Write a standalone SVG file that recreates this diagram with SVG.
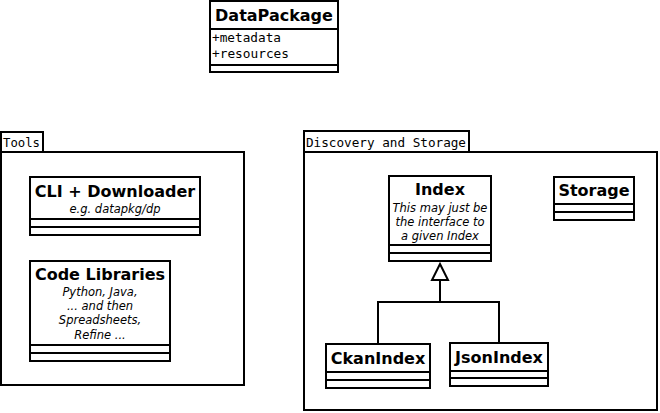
<svg xmlns="http://www.w3.org/2000/svg" width="660" height="413" viewBox="0 0 660 413">
<style>
rect, line, path, polyline { fill: #fff; stroke: #000; stroke-width: 2; }
polyline.c { fill: none; }
.t { font-family: "DejaVu Sans", sans-serif; font-weight: bold; font-size: 16px; text-anchor: middle; }
.i { font-family: "DejaVu Sans", sans-serif; font-style: italic; font-size: 11.5px; text-anchor: middle; }
.m { font-family: "DejaVu Sans Mono", monospace; font-size: 12.5px; }
</style>
<rect x="0" y="0" width="660" height="413" style="stroke:none"/>
<g id="pkg-tools">
<rect x="1" y="152" width="243" height="233"/>
<rect x="1" y="132" width="42" height="20"/>
<text class="m" x="3" y="147" textLength="37" lengthAdjust="spacingAndGlyphs">Tools</text>
</g>
<g id="pkg-discovery">
<rect x="304" y="152" width="353" height="258"/>
<rect x="304" y="131" width="165" height="21"/>
<text class="m" x="306" y="147" textLength="160" lengthAdjust="spacingAndGlyphs">Discovery and Storage</text>
</g>
<g id="DataPackage">
<rect x="210" y="1" width="128" height="71"/>
<line x1="210" y1="29" x2="338" y2="29"/>
<line x1="210" y1="65" x2="338" y2="65"/>
<text class="t" x="274" y="21">DataPackage</text>
<text class="m" x="212" y="42" textLength="69" lengthAdjust="spacingAndGlyphs">+metadata</text>
<text class="m" x="212" y="58" textLength="77" lengthAdjust="spacingAndGlyphs">+resources</text>
</g>
<g id="CLI">
<rect x="30" y="177" width="170" height="58"/>
<line x1="30" y1="219" x2="200" y2="219"/>
<line x1="30" y1="227" x2="200" y2="227"/>
<text class="t" x="115" y="197">CLI + Downloader</text>
<text class="i" x="115" y="213">e.g. datapkg/dp</text>
</g>
<g id="CodeLibraries">
<rect x="30" y="261" width="140" height="100"/>
<line x1="30" y1="345" x2="170" y2="345"/>
<line x1="30" y1="353" x2="170" y2="353"/>
<text class="t" x="100" y="280">Code Libraries</text>
<text class="i" x="100" y="296">Python, Java,</text>
<text class="i" x="100" y="310">... and then</text>
<text class="i" x="100" y="324">Spreadsheets,</text>
<text class="i" x="100" y="339">Refine ...</text>
</g>
<g id="Index">
<rect x="389" y="176" width="102" height="85"/>
<line x1="389" y1="245" x2="491" y2="245"/>
<line x1="389" y1="253" x2="491" y2="253"/>
<text class="t" x="440" y="195">Index</text>
<text class="i" x="440" y="212">This may just be</text>
<text class="i" x="440" y="226">the interface to</text>
<text class="i" x="440" y="240">a given Index</text>
</g>
<g id="Storage">
<rect x="554" y="177" width="80" height="43"/>
<line x1="554" y1="204" x2="634" y2="204"/>
<line x1="554" y1="212" x2="634" y2="212"/>
<text class="t" x="594" y="196">Storage</text>
</g>
<g id="CkanIndex">
<rect x="326" y="344" width="104" height="44"/>
<line x1="326" y1="372" x2="430" y2="372"/>
<line x1="326" y1="380" x2="430" y2="380"/>
<text class="t" x="378" y="364">CkanIndex</text>
</g>
<g id="JsonIndex">
<rect x="450" y="343" width="98" height="43"/>
<line x1="450" y1="371" x2="548" y2="371"/>
<line x1="450" y1="378" x2="548" y2="378"/>
<text class="t" x="499" y="363">JsonIndex</text>
</g>
<g id="connectors">
<polyline class="c" points="378,344 378,302 499,302 499,343"/>
<line x1="440" y1="302" x2="440" y2="280"/>
<path d="M440,264 L448,280 L432,280 Z"/>
</g>
</svg>
